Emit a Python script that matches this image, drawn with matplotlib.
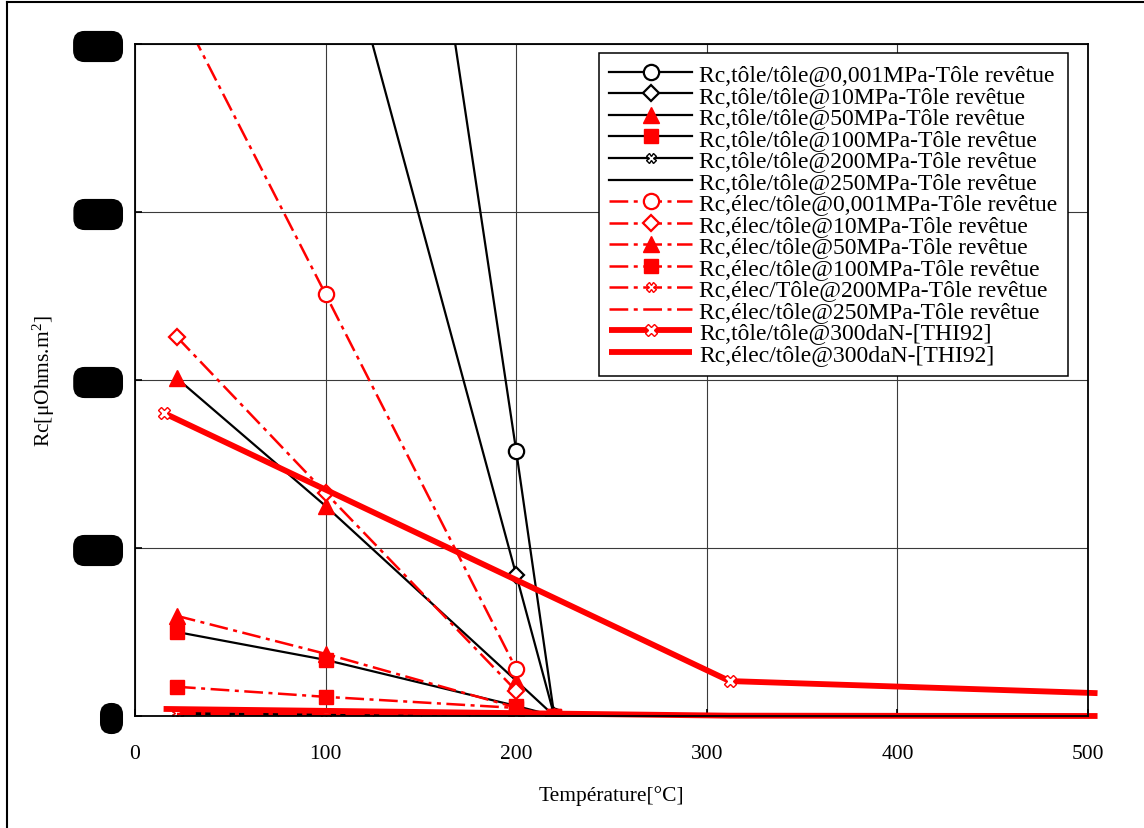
import matplotlib
matplotlib.use("Agg")
import matplotlib.pyplot as plt
from matplotlib.lines import Line2D

plt.rcParams['font.family'] = ['Liberation Serif', 'DejaVu Serif']
plt.rcParams['mathtext.fontset'] = 'custom'
plt.rcParams['mathtext.rm'] = 'Liberation Serif'
plt.rcParams['mathtext.it'] = 'Liberation Serif:italic'

# ---------------- data ----------------
x_tt_001 = [100, 200, 220]
y_tt_001 = [0.4575, 0.0789, 0.0]
x_tt_10 = [100, 200, 220]
y_tt_10 = [0.2515, 0.0420, 0.0]
x_tt_50 = [22, 100, 200, 220]
y_tt_50 = [0.1005, 0.0625, 0.0105, 0.0]
x_tt_100 = [22, 100, 200, 220]
y_tt_100 = [0.0250, 0.0167, 0.0030, 0.0]
x_tt_200 = [22, 100, 200, 220]
y_tt_200 = [0.0009, 0.0006, 0.0001, 0.0]
x_tt_250 = [22, 100, 200, 220]
y_tt_250 = [0.0005, 0.0003, 0.0001, 0.0]

x_et_001 = [22, 100, 200]
y_et_001 = [0.2120, 0.1255, 0.0140]
x_et_10 = [22, 100, 200]
y_et_10 = [0.1128, 0.0664, 0.0075]
x_et_50 = [22, 100, 200]
y_et_50 = [0.0298, 0.0185, 0.0025]
x_et_100 = [22, 100, 200, 220]
y_et_100 = [0.0087, 0.0057, 0.0024, 0.0]
x_et_200 = [22, 100, 200]
y_et_200 = [0.0009, 0.0006, 0.0001]
x_et_250 = [22, 100, 200]
y_et_250 = [0.0006, 0.0004, 0.0001]

x_thi = [15, 312, 505]
y_thi_tt = [0.0902, 0.0104, 0.0068]
y_thi_et = [0.0021, 0.0001, 0.0]

labels = [
    "Rc,tôle/tôle@0,001MPa-Tôle revêtue",
    "Rc,tôle/tôle@10MPa-Tôle revêtue",
    "Rc,tôle/tôle@50MPa-Tôle revêtue",
    "Rc,tôle/tôle@100MPa-Tôle revêtue",
    "Rc,tôle/tôle@200MPa-Tôle revêtue",
    "Rc,tôle/tôle@250MPa-Tôle revêtue",
    "Rc,élec/tôle@0,001MPa-Tôle revêtue",
    "Rc,élec/tôle@10MPa-Tôle revêtue",
    "Rc,élec/tôle@50MPa-Tôle revêtue",
    "Rc,élec/tôle@100MPa-Tôle revêtue",
    "Rc,élec/Tôle@200MPa-Tôle revêtue",
    "Rc,élec/tôle@250MPa-Tôle revêtue",
    "Rc,tôle/tôle@300daN-[THI92]",
    "Rc,élec/tôle@300daN-[THI92]",
]

x_ticks = [0, 100, 200, 300, 400, 500]
y_ticks = [0.0, 0.05, 0.10, 0.15, 0.20]
y_tick_labels = ["0", "0.05", "0.10", "0.15", "0.20"]

# ---------------- figure ----------------
W, H = 1144, 829
fig = plt.figure(figsize=(W / 100, H / 100), dpi=100)
ax = fig.add_axes([135 / W, 1 - 717 / H, (1088 - 135) / W, (717 - 45) / H])

RED = '#ff0000'
dd = (0, (7.5, 2.2, 1.6, 2.2))
blw = 1.6
rlw = 1.8

ax.plot(x_tt_001, y_tt_001, color='k', lw=blw, marker='o', ms=11, mfc='white', mec='k', mew=1.6, label=labels[0])
ax.plot(x_tt_10, y_tt_10, color='k', lw=blw, marker='D', ms=8.5, mfc='white', mec='k', mew=1.6, label=labels[1])
ax.plot(x_tt_50, y_tt_50, color='k', lw=blw, marker='^', ms=12, mfc=RED, mec=RED, label=labels[2])
ax.plot(x_tt_100, y_tt_100, color='k', lw=blw, marker='s', ms=10.5, mfc=RED, mec=RED, label=labels[3])
ax.plot(x_tt_200, y_tt_200, color='k', lw=blw, marker='X', ms=7, mfc='white', mec='k', mew=1.0, label=labels[4])
ax.plot(x_tt_250, y_tt_250, color='k', lw=blw, label=labels[5])

ax.plot(x_et_001, y_et_001, color=RED, lw=rlw, ls=dd, marker='o', ms=11, mfc='white', mec=RED, mew=1.6, label=labels[6])
ax.plot(x_et_10, y_et_10, color=RED, lw=rlw, ls=dd, marker='D', ms=8.5, mfc='white', mec=RED, mew=1.6, label=labels[7])
ax.plot(x_et_50, y_et_50, color=RED, lw=rlw, ls=dd, marker='^', ms=12, mfc=RED, mec=RED, label=labels[8])
ax.plot(x_et_100, y_et_100, color=RED, lw=rlw, ls=dd, marker='s', ms=10.5, mfc=RED, mec=RED, label=labels[9])
ax.plot(x_et_200, y_et_200, color=RED, lw=rlw, ls=dd, marker='X', ms=7, mfc='white', mec=RED, mew=1.0, label=labels[10])
ax.plot(x_et_250, y_et_250, color=RED, lw=rlw, ls=dd, label=labels[11])

ax.plot(x_thi, y_thi_tt, color=RED, lw=4.2, marker='X', ms=8, mfc='white', mec=RED, mew=1.0, markevery=[0, 1],
        label=labels[12], clip_on=False, solid_capstyle='butt')
ax.plot(x_thi, y_thi_et, color=RED, lw=4.2, label=labels[13], clip_on=False, solid_capstyle='butt')

ax.set_xlim(0, 500)
ax.set_ylim(0, 0.20)
ax.set_xticks(x_ticks)
ax.set_xticks(range(0, 501, 25), minor=True)
ax.set_yticks(y_ticks)
ax.set_yticklabels(y_tick_labels)
ax.grid(True, which='major', color='#3a3a3a', lw=0.8)
ax.set_axisbelow(True)
ax.tick_params(axis='both', which='major', direction='in', length=5, width=1.2, labelsize=15.5)
ax.tick_params(axis='x', which='major', pad=20)
ax.tick_params(axis='y', which='major', pad=13)
ax.tick_params(axis='x', which='minor', direction='in', length=2.5, width=1.0)
for s in ax.spines.values():
    s.set_linewidth(1.3)

for lbl in ax.get_yticklabels():
    lbl.set_color('black')
    lbl.set_bbox(dict(boxstyle='round,pad=0.25,rounding_size=0.5', fc='black', ec='black'))

ax.set_xlabel("Température[°C]", fontsize=15.5, labelpad=16)
ax.set_ylabel(r"Rc[μOhms.m$^2$]", fontsize=15.5, labelpad=16)

leg = ax.legend(loc='upper right', bbox_to_anchor=(0.979, 0.9866), borderaxespad=0,
                fontsize=17, labelspacing=0.0, handlelength=3.5, handletextpad=0.3,
                borderpad=0.45, fancybox=False, edgecolor='black', framealpha=1)
leg.get_frame().set_linewidth(1.1)

# figure frame
fig.add_artist(Line2D([7 / W, 7 / W], [0, 1 - 3 / H], color='k', lw=1.5, transform=fig.transFigure))
fig.add_artist(Line2D([7 / W, 1], [1 - 3 / H, 1 - 3 / H], color='k', lw=1.5, transform=fig.transFigure))

fig.savefig('out.png', dpi=100)
